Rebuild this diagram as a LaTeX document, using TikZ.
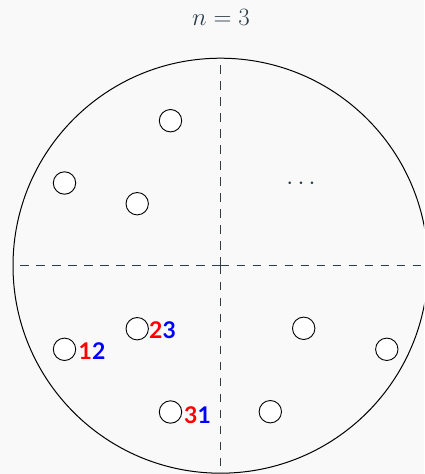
\documentclass[tikz,border=0pt]{standalone}
\usepackage{fontspec}
\newfontfamily\labelfont{Lato}[UprightFont=* Bold]
\definecolor{bgc}{HTML}{F9F9F9}
\definecolor{ink}{HTML}{2C3E4A}
\definecolor{lred}{HTML}{FF0000}
\definecolor{lblue}{HTML}{0000FF}
\tikzset{
  pt/.style={circle,draw=black,fill=white,line width=0.9pt,minimum size=22.4pt,inner sep=0pt},
  guide/.style={draw=ink,line width=1pt,dash pattern=on 8.5pt off 7.5pt},
  lbl/.style={anchor=base west,inner sep=0pt,font=\labelfont\fontsize{23}{26}\selectfont},
}
\begin{document}
\begin{tikzpicture}[x=1pt,y=-1pt]
\fill[bgc] (0,0) rectangle (424,474);
\useasboundingbox (0,0) rectangle (424,474);
\begin{scope}
\clip (0,0) rectangle (424,474);
\coordinate (O) at (220.5,265.7);
\draw[black,line width=1pt] (O) circle[radius=207.5];
\coordinate (L) at (13,265.7);
\coordinate (R) at (428,265.7);
\coordinate (T) at (220.5,58.2);
\coordinate (B) at (220.5,473.2);
\draw[guide] (O) -- (L);
\draw[guide] (O) -- (R);
\draw[guide] (O) -- (T);
\draw[guide] (O) -- (B);
\end{scope}
\node[anchor=base,text=ink,font=\fontsize{24}{28}\selectfont] (title) at (221,25.7) {$n=3$};
\node[anchor=base,text=ink,font=\fontsize{27}{30}\selectfont] (dots) at (301,189) {$\cdots$};
\node[pt] (c1) at (170.5,120.7) {};
\node[pt] (c2) at (64.5,183) {};
\node[pt] (c3) at (137.2,203.7) {};
\node[pt] (c4) at (137.2,328.7) {};
\node[pt] (c5) at (64.5,349.3) {};
\node[pt] (c6) at (170.5,412) {};
\node[pt] (c7) at (303.7,328.3) {};
\node[pt] (c8) at (386.8,349.3) {};
\node[pt] (c9) at (270.3,411.7) {};
\node[lbl] (l12) at (78.5,359) {\textcolor{lred}{1}\textcolor{lblue}{2}};
\node[lbl] (l23) at (149,338) {\textcolor{lred}{2}\textcolor{lblue}{3}};
\node[lbl] (l31) at (184,423) {\textcolor{lred}{3}\textcolor{lblue}{1}};
\end{tikzpicture}
\end{document}
